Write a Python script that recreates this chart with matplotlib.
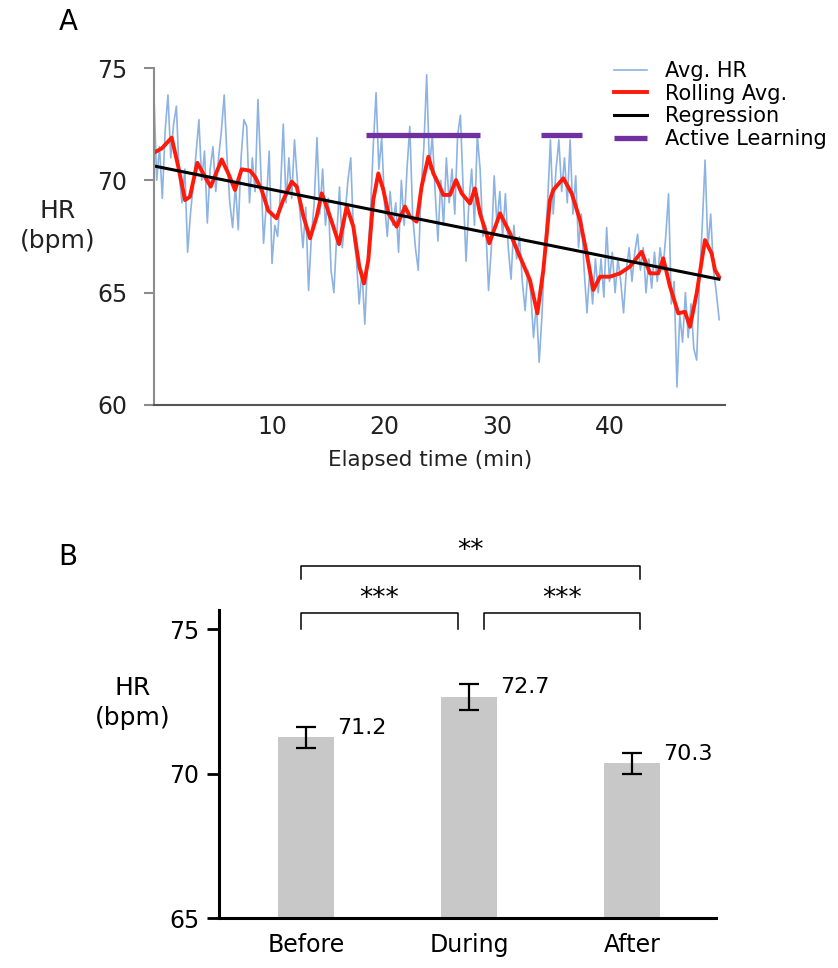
import matplotlib.pyplot as plt
import numpy as np

plt.rcParams['font.family'] = ['DejaVu Sans']

# ---- panel A data ----
# raw heart rate, one sample every 0.25 min starting at -0.5 min
hr_raw = [
    73.9, 70.0, 71.5, 69.2, 72.2, 73.8, 71.0, 72.5,
    73.3, 70.2, 69.0, 70.5, 66.8, 68.5, 69.8, 71.2,
    72.7, 70.0, 71.3, 68.1, 70.5, 71.5, 69.5, 71.0,
    72.2, 73.8, 71.0, 69.0, 67.9, 69.8, 67.8, 71.0,
    72.7, 72.4, 69.0, 71.0, 69.5, 73.6, 70.5, 67.2,
    69.0, 71.3, 66.3, 68.0, 67.5, 69.5, 72.5, 69.0,
    71.0, 69.2, 71.8, 70.0, 68.5, 67.0, 68.8, 65.1,
    67.5, 69.0, 71.9, 68.5, 70.5, 68.0, 69.2, 66.0,
    65.0, 67.5, 69.7, 67.0, 68.5, 70.0, 71.0, 67.5,
    66.5, 64.5, 66.0, 63.6, 66.5, 68.5, 71.5, 73.9,
    70.5, 71.9, 69.0, 67.5, 69.5, 68.0, 69.0, 66.8,
    70.0, 68.0, 70.5, 72.4, 68.5, 67.0, 66.0, 69.5,
    71.5, 74.7, 70.5, 72.0, 69.5, 67.3, 70.0, 68.0,
    71.0, 69.0, 70.5, 68.5, 72.0, 72.9, 69.5, 66.4,
    69.0, 70.5, 68.0, 72.0, 70.5, 67.5, 68.0, 65.1,
    67.0, 70.2, 68.0, 69.5, 67.5, 69.4, 67.0, 65.6,
    68.0, 66.5, 67.5, 65.5, 64.2, 66.0, 65.0, 63.0,
    64.5, 61.9, 64.0, 67.0, 69.0, 71.8, 68.5, 70.5,
    71.8, 69.5, 71.0, 69.0, 71.8, 68.5, 70.2, 67.0,
    68.5, 66.0, 64.1, 66.0, 64.5, 66.5, 65.0, 66.5,
    64.8, 67.9, 65.5, 66.8, 65.0, 66.5, 65.5, 64.1,
    66.0, 67.0, 65.5, 66.8, 67.6, 66.0, 67.0, 65.0,
    66.5, 65.2, 66.8, 65.5, 67.0, 66.0, 67.5, 69.4,
    64.5, 65.5, 60.8, 64.0, 62.8, 65.0, 63.0, 64.5,
    62.5, 62.0, 65.5, 68.0, 70.9, 67.0, 68.5, 66.0,
    65.0, 63.8,
]
t_raw = -0.5 + 0.25 * np.arange(len(hr_raw))

roll_t = [-0.5, 0.2, 1.08, 1.67, 2.27, 2.7, 3.36, 4.04, 4.55, 5.53, 6.12, 6.71,
          7.3, 8.04, 8.49, 9.08, 9.67, 10.4, 11.0, 11.75, 12.2, 12.8, 13.38,
          13.97, 14.42, 14.86, 15.45, 15.96, 16.64, 17.23, 17.76, 18.18, 18.56,
          19.0, 19.45, 19.9, 20.34, 21.08, 21.82, 22.27, 22.86, 23.3, 23.9,
          24.34, 24.78, 25.23, 25.82, 26.36, 26.86, 27.6, 28.04, 28.49, 29.32,
          30.27, 31.16, 32.04, 32.93, 33.59, 34.12, 34.71, 35.0, 35.9, 36.64,
          37.38, 37.97, 38.56, 39.16, 40.04, 40.93, 41.82, 42.86, 43.6, 44.34,
          44.78, 45.38, 46.12, 46.71, 47.16, 47.75, 48.49, 49.08, 49.38, 49.73]
roll_v = [71.23, 71.42, 71.9, 70.6, 69.12, 69.27, 70.78, 70.16, 69.72, 70.93,
          70.3, 69.57, 70.49, 70.43, 70.16, 69.57, 68.65, 68.31, 69.12, 69.94,
          69.72, 68.38, 67.42, 68.38, 69.42, 68.83, 67.94, 67.16, 68.83, 67.94,
          66.16, 65.41, 66.45, 69.12, 70.31, 69.57, 68.53, 67.94, 68.83, 68.38,
          68.16, 69.72, 71.05, 70.31, 69.87, 69.35, 69.35, 70.01, 69.42, 68.97,
          69.64, 68.53, 67.2, 68.53, 67.64, 66.6, 65.56, 64.08, 66.01, 69.12,
          69.57, 70.09, 69.42, 68.23, 66.75, 65.12, 65.71, 65.71, 65.86, 66.16,
          66.82, 65.86, 65.86, 66.53, 65.27, 64.08, 64.15, 63.48, 64.97, 67.34,
          66.75, 66.01, 65.71]

reg_t = [-0.5, 49.73]
reg_v = [70.64, 65.6]

active_spans = [(18.4, 28.5), (33.9, 37.6)]
active_level = 72.0

# ---- panel B data ----
periods = ['Before', 'During', 'After']
means = [71.25, 72.66, 70.36]
errs = [0.36, 0.45, 0.36]
mean_labels = ['71.2', '72.7', '70.3']
sig_pairs = [(0, 1), (1, 2), (0, 2)]
sig_marks = ['***', '***', '**']

W, H = 838, 968
fig = plt.figure(figsize=(W / 100, H / 100), dpi=100)

# panel A
axA = fig.add_axes([154 / W, 1 - 405 / H, 571 / W, 337 / H])
axA.plot(t_raw, hr_raw, color='#8db3e2', lw=1.2, label='Avg. HR')
axA.plot(roll_t, roll_v, color='#ff1a0a', lw=2.8, label='Rolling Avg.')
axA.plot(reg_t, reg_v, color='black', lw=2.2, label='Regression')
for i, (a, b) in enumerate(active_spans):
    axA.plot([a, b], [active_level, active_level], color='#7030a0', lw=3.8,
             solid_capstyle='butt', label='Active Learning' if i == 0 else None)

axA.set_xlim(-0.49, 50.27)
axA.set_ylim(60, 75)
axA.spines['top'].set_visible(False)
axA.spines['right'].set_visible(False)
axA.spines['left'].set_color('#8c8c8c')
axA.spines['left'].set_linewidth(1.5)
axA.spines['bottom'].set_color('#555555')
axA.spines['bottom'].set_linewidth(1.5)
axA.set_xticks([10, 20, 30, 40])
axA.set_yticks([60, 65, 70, 75])
axA.tick_params(axis='x', length=0, pad=7, labelsize=17, labelcolor='#222222')
axA.tick_params(axis='y', length=7, width=1.5, color='#8c8c8c', pad=12,
                labelsize=17, labelcolor='#222222')

axA.legend(loc='upper left', bbox_to_anchor=(614 / W, 1 - 61 / H),
           bbox_transform=fig.transFigure, frameon=False, fontsize=15,
           handlelength=1.6, handletextpad=0.85, labelspacing=0.13,
           borderpad=0, borderaxespad=0)

fig.text(68 / W, 1 - 22 / H, 'A', fontsize=20, ha='center', va='center')
fig.text(58 / W, 1 - 226 / H, 'HR\n(bpm)', fontsize=18, ha='center',
         va='center', linespacing=1.3, color='#222222')
fig.text(430 / W, 1 - 460 / H, 'Elapsed time (min)', fontsize=15.5,
         ha='center', va='center', color='#222222')

# panel B
axB = fig.add_axes([219 / W, 1 - 918 / H, 497 / W, 308 / H])
x = np.arange(len(periods))
bar_w = 0.344
axB.bar(x, means, width=bar_w, color='#c8c8c8')
axB.errorbar(x, means, yerr=errs, fmt='none', ecolor='black', elinewidth=1.6,
             capsize=7, capthick=1.6)
for xi, m, lab in zip(x, means, mean_labels):
    axB.text(xi + bar_w / 2 + 0.02, m + 0.33, lab, fontsize=16,
             ha='left', va='center')

axB.set_xlim(-0.534, 2.515)
axB.set_ylim(65, 75.66)
axB.set_xticks(x)
axB.set_xticklabels(periods)
axB.set_yticks([65, 70, 75])
axB.spines['top'].set_visible(False)
axB.spines['right'].set_visible(False)
axB.spines['left'].set_linewidth(2.2)
axB.spines['bottom'].set_linewidth(2.2)
axB.tick_params(axis='x', length=0, pad=11, labelsize=17)
axB.tick_params(axis='y', length=9, width=2, pad=5, labelsize=17)

# significance brackets
for (i, j), mark in zip(sig_pairs, sig_marks):
    x0 = i - 0.03 + (0.12 if i == 1 else 0)
    x1 = j + 0.05 - (0.12 if j == 1 else 0)
    if j - i == 1:
        top, tip = 75.55, 75.0
    else:
        top, tip = 77.2, 76.73
    axB.plot([x0, x0, x1, x1], [tip, top, top, tip], color='black', lw=1.1,
             clip_on=False)
    axB.text((x0 + x1) / 2, top + 0.05, mark, fontsize=19, ha='center',
             va='bottom', clip_on=False)

fig.text(68 / W, 1 - 557 / H, 'B', fontsize=20, ha='center', va='center')
fig.text(133 / W, 1 - 703 / H, 'HR\n(bpm)', fontsize=18, ha='center',
         va='center', linespacing=1.3)

fig.savefig('out.png', dpi=100)
